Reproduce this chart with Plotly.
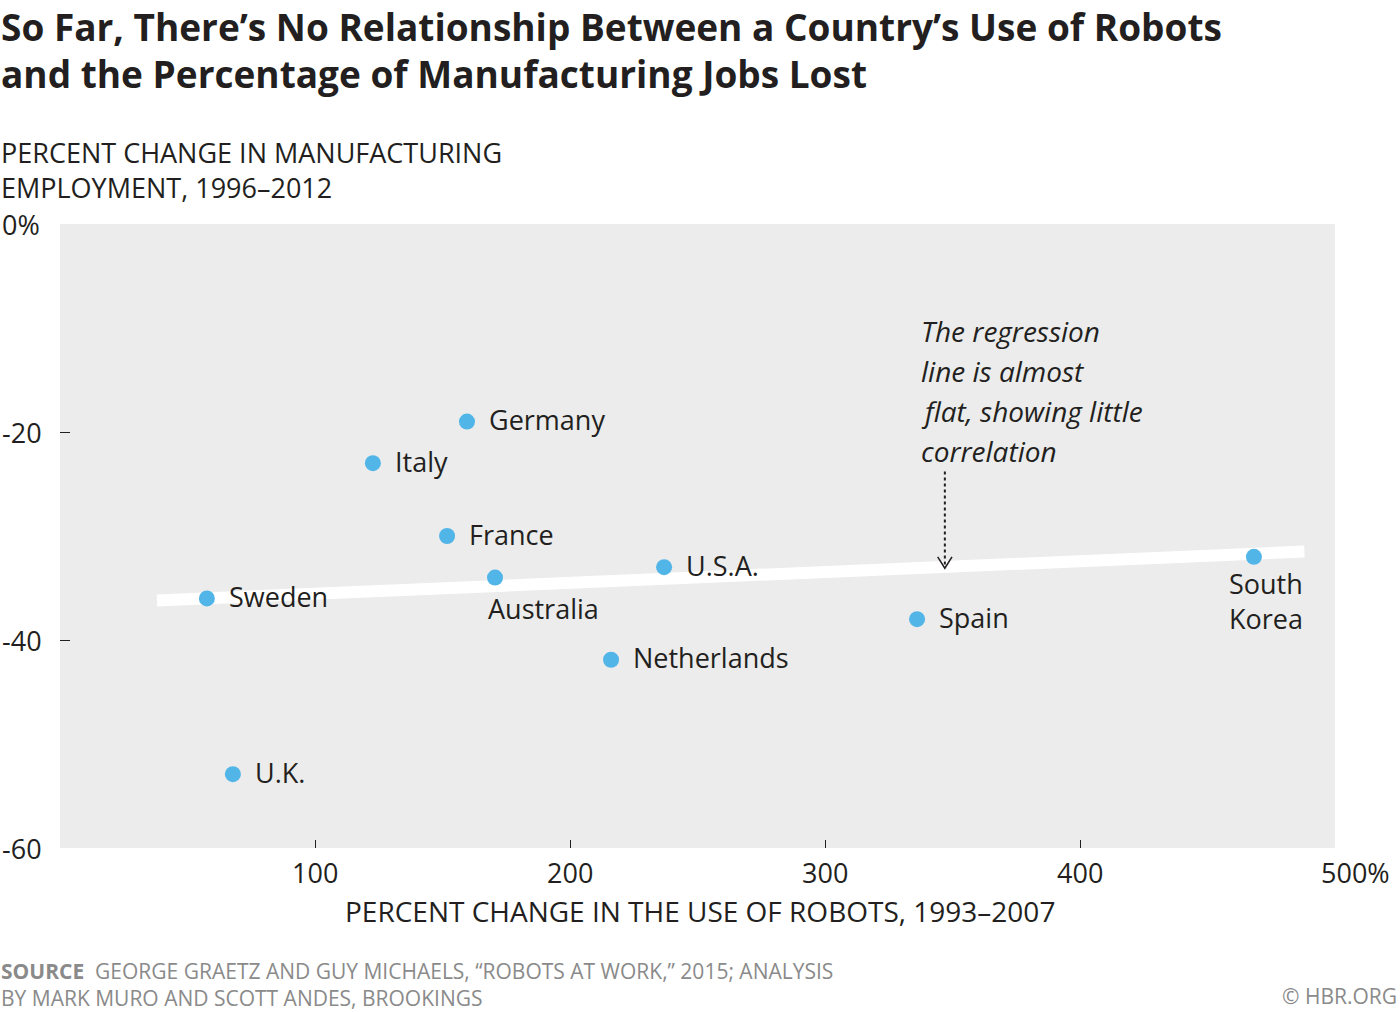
import plotly.graph_objects as go

# ---- data ----
countries = ["Sweden", "U.K.", "Italy", "Germany", "France", "Australia",
             "Netherlands", "U.S.A.", "Spain", "South<br>Korea"]
robot_change = [57.6, 67.8, 122.7, 159.6, 151.8, 170.6, 216.1, 236.9, 336.1, 468.2]
mfg_change = [-36.0, -52.9, -23.0, -19.0, -30.0, -34.0, -41.9, -33.0, -38.0, -32.0]

reg_x = [38, 488]
reg_y = [-36.2, -31.5]

x_ticks = [100, 200, 300, 400, 500]
x_ticklabels = ["100", "200", "300", "400", "500%"]
y_ticks = [0, -20, -40, -60]
y_ticklabels = ["0%", "-20", "-40", "-60"]

title_lines = ["So Far, There’s No Relationship Between a Country’s Use of Robots",
               "and the Percentage of Manufacturing Jobs Lost"]
ytitle_lines = ["PERCENT CHANGE IN MANUFACTURING", "EMPLOYMENT, 1996–2012"]
xtitle = "PERCENT CHANGE IN THE USE OF ROBOTS, 1993–2007"
note_lines = ["The regression", "line is almost", "flat, showing little", "correlation"]
source_lines = ["<b>SOURCE</b>  GEORGE GRAETZ AND GUY MICHAELS, “ROBOTS AT WORK,” 2015; ANALYSIS",
                "BY MARK MURO AND SCOTT ANDES, BROOKINGS"]
credit = "© HBR.ORG"

# note pointer (data coords)
pointer_x = [347, 347]
pointer_y = [-23.8, -32.8]

# label placement (style only): (xshift, yshift)
label_pos = {
    "Australia": (-9, -31),
    "South<br>Korea": (-27, -44),
}

TXT = "#231f20"
DOT = "#52b5e8"
BG = "#ebeceb"
GREY = "#8a8a8a"
F = "Open Sans"
PLOT_TOP = 224
PLOT_LEFT = 60

fig = go.Figure()

fig.add_trace(go.Scatter(x=reg_x, y=reg_y, mode="lines",
                         line=dict(color="white", width=12),
                         hoverinfo="skip", showlegend=False))
fig.add_trace(go.Scatter(x=robot_change, y=mfg_change, mode="markers",
                         marker=dict(color=DOT, size=16, line=dict(width=0)),
                         text=countries, showlegend=False))

annotations = []
for c, xv, yv in zip(countries, robot_change, mfg_change):
    xs, ys = label_pos.get(c, (20, 2))
    annotations.append(dict(x=xv, y=yv, xref="x", yref="y", text=c, showarrow=False,
                            xanchor="left", yanchor="middle", xshift=xs, yshift=ys,
                            align="left",
                            font=dict(family=F, size=27, color=TXT)))

# x tick labels
for v, t in zip(x_ticks, x_ticklabels):
    annotations.append(dict(x=v, y=0, xref="x", yref="paper", text=t, showarrow=False,
                            xanchor="center", yanchor="top", yshift=-4,
                            xshift=20 if t.endswith("%") else 0,
                            font=dict(family=F, size=27, color=TXT)))
# y tick labels
for v, t in zip(y_ticks, y_ticklabels):
    annotations.append(dict(x=0, y=v, xref="paper", yref="y", text=t, showarrow=False,
                            xanchor="left", yanchor="middle", xshift=-PLOT_LEFT,
                            font=dict(family=F, size=27, color=TXT)))


def top_text(text, left_px, center_px, size, color=TXT, family=F, anchor="left", style="normal"):
    return dict(x=0, y=1, xref="paper", yref="paper", text=text, showarrow=False,
                xanchor=anchor, yanchor="middle", align=anchor if anchor != "center" else "center",
                xshift=left_px - PLOT_LEFT, yshift=PLOT_TOP - center_px, borderpad=0,
                font=dict(family=family, size=size, color=color, style=style))


# titles
for i, t in enumerate(title_lines):
    annotations.append(top_text("<b>" + t + "</b>", 0, 26 + 47 * i, 37))
annotations.append(top_text("<br>".join(ytitle_lines), 0, 170, 27))
annotations.append(top_text(xtitle, 700, 911, 28, anchor="center"))
annotations.append(top_text("<br>".join(source_lines), 0, 984, 21, color=GREY))
annotations.append(top_text(credit, 1398, 996, 21, color=GREY, anchor="right"))
for i, t in enumerate(note_lines):
    annotations.append(top_text(t, 920, 331 + 40 * i, 28, style="italic"))

fig.update_layout(
    width=1400, height=1012,
    margin=dict(l=PLOT_LEFT, r=65, t=PLOT_TOP, b=164),
    paper_bgcolor="white", plot_bgcolor=BG,
    annotations=annotations,
    xaxis=dict(range=[0, 500], showgrid=False, zeroline=False, showline=False,
               tickvals=x_ticks[:-1], ticks="inside", ticklen=8, tickcolor=TXT,
               tickwidth=1, showticklabels=False, fixedrange=True),
    yaxis=dict(range=[-60, 0], showgrid=False, zeroline=False, showline=False,
               tickvals=[-20, -40], ticks="inside", ticklen=10, tickcolor=TXT,
               tickwidth=1, showticklabels=False, fixedrange=True),
)

# dotted pointer line with chevron head
fig.add_trace(go.Scatter(x=pointer_x, y=pointer_y, mode="lines",
                         line=dict(color=TXT, width=2, dash="dot"),
                         hoverinfo="skip", showlegend=False))
fig.add_trace(go.Scatter(x=[pointer_x[1] - 2.8, pointer_x[1], pointer_x[1] + 2.8],
                         y=[pointer_y[1] + 0.8, pointer_y[1] - 0.3, pointer_y[1] + 0.8],
                         mode="lines", line=dict(color=TXT, width=1.5),
                         hoverinfo="skip", showlegend=False))

fig.write_html("out.html")
